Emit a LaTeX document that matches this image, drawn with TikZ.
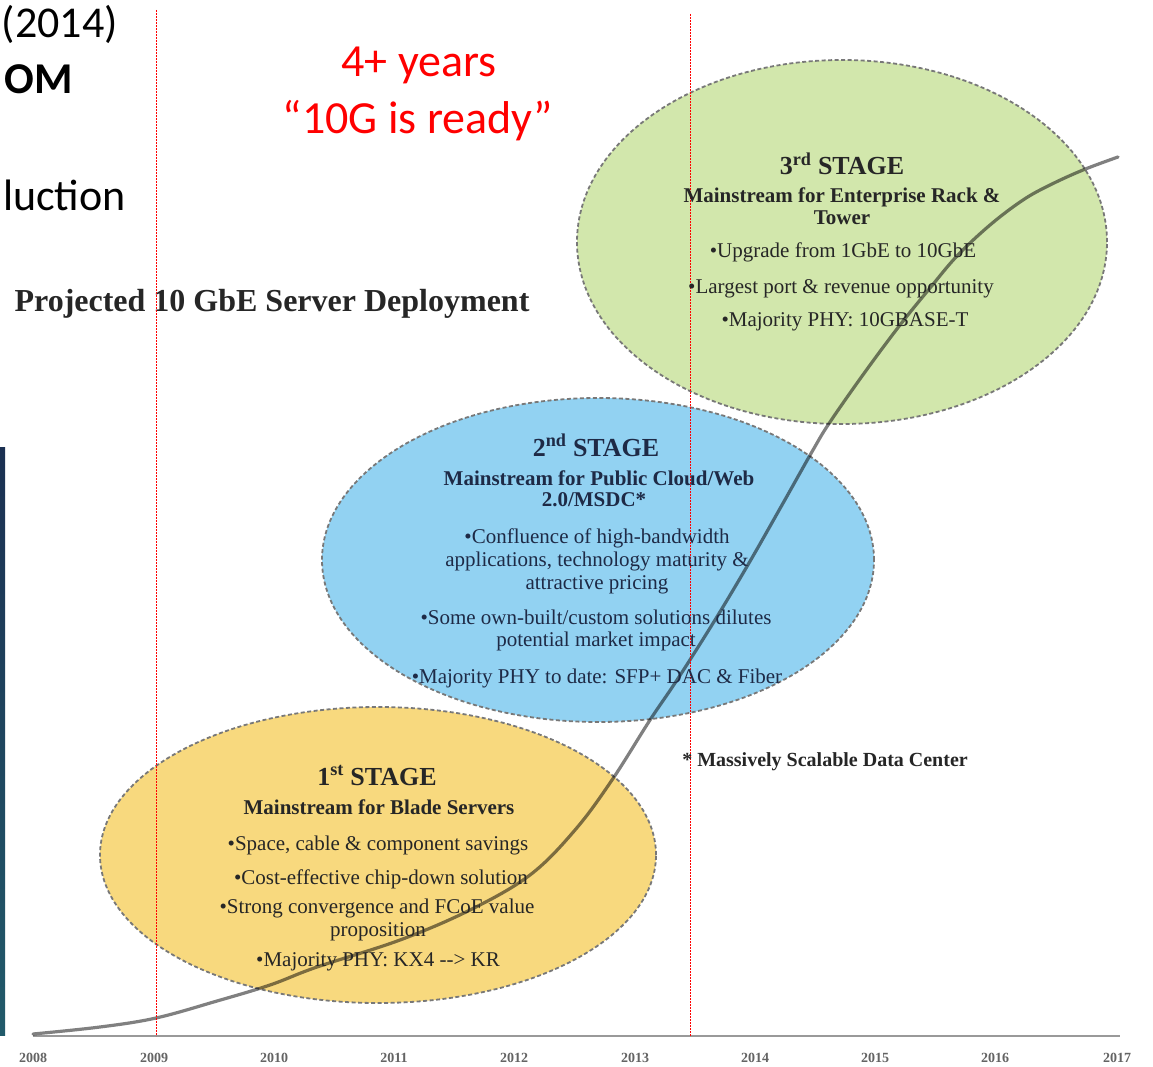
\documentclass[tikz,border=0pt]{standalone}
\usepackage{fontspec}
\setmainfont{Liberation Serif}
\newfontfamily\slidefont{Carlito}
\usetikzlibrary{shapes.geometric}
\definecolor{greenfill}{RGB}{210,231,172}
\definecolor{bluefill}{RGB}{146,210,242}
\definecolor{yellowfill}{RGB}{248,217,126}
\definecolor{ellborder}{RGB}{120,120,120}
\definecolor{curvegray}{RGB}{128,128,128}
\definecolor{bluetext}{RGB}{30,42,70}
\definecolor{darktext}{RGB}{38,38,38}
\definecolor{yeargray}{RGB}{100,100,100}
\definecolor{barTop}{RGB}{27,48,82}
\definecolor{barBot}{RGB}{33,90,106}
\begin{document}
\begin{tikzpicture}[x=1pt,y=-1pt,
  stageell/.style={ellipse, draw=ellborder, line width=1.8pt, dash pattern=on 4pt off 2.5pt, inner sep=0pt},
  bodytxt/.style={font=\fontsize{21}{24}\selectfont, anchor=base, inner sep=0pt},
  headtxt/.style={font=\fontsize{21}{24}\selectfont\bfseries, anchor=base, inner sep=0pt},
  stagetitle/.style={font=\fontsize{26}{30}\selectfont\bfseries, anchor=base, inner sep=0pt},
  slidetxt/.style={font=\slidefont\fontsize{44}{50}\selectfont, inner sep=0pt},
  redtxt/.style={font=\slidefont\fontsize{46}{52}\selectfont, text=red, anchor=base, inner sep=0pt},
  yeartxt/.style={font=\fontsize{14}{16}\selectfont\bfseries, text=yeargray, anchor=base, inner sep=0pt},
  redline/.style={draw=red, line width=0.7pt, dash pattern=on 2pt off 1pt}]
\useasboundingbox[fill=white] (0,0) rectangle (1153,1067);

% left dark bar
\shade[top color=barTop, bottom color=barBot] (0,447) rectangle (5,1035);

% slide text fragments
\node[slidetxt, anchor=base east] (t2014) at (118,38) {(2014)};
\node[slidetxt, anchor=base east, font=\slidefont\bfseries\fontsize{44}{50}\selectfont] (tom) at (73,94) {OM};
\node[slidetxt, anchor=base east] (tluction) at (126,211) {luction};

% red labels
\node[redtxt] (years) at (419,77) {4+ years};
\node[redtxt] (ready) at (418,134) {“10G is ready”};

% chart title
\node[font=\fontsize{32}{35}\selectfont\bfseries, anchor=base, inner sep=0pt, text=darktext] (title) at (272,311) {Projected 10 GbE Server Deployment};

% ellipses
\node[stageell, fill=greenfill, minimum width=530pt, minimum height=364pt] (e3) at (842,242) {};
\node[stageell, fill=bluefill, minimum width=552pt, minimum height=324pt] (e2) at (598,560) {};
\node[stageell, fill=yellowfill, minimum width=556pt, minimum height=296pt] (e1) at (378,855) {};

% axis
\coordinate (ax0) at (33,1036);
\coordinate (ax1) at (1120,1036);
\draw[draw=curvegray!80, line width=1.5pt] (ax0) -- (ax1);

% adoption curve
\begin{scope}[blend mode=multiply]
\draw[curvegray, line width=3.2pt, line cap=round] plot[smooth, tension=0.6] coordinates {
 (33,1034) (100,1027) (156,1018) (217,1001) (270,985) (317,967)
 (400,940) (470,910) (530,875) (575,830) (612,780) (650,720) (677,680)
 (715,620) (749,563) (782,505) (813,450) (830,422) (865,372) (900,325)
 (930,288) (957,256) (990,225) (1023,200) (1050,185) (1083,170) (1118,157)};
\end{scope}

% red dotted lines
\coordinate (r1t) at (156,10);
\coordinate (r1b) at (156,1036);
\coordinate (r2t) at (690,14);
\coordinate (r2b) at (690,1036);
\draw[redline] (r1t) -- (r1b);
\draw[redline] (r2t) -- (r2b);

% 3rd stage text
\begin{scope}[every node/.append style={text=darktext}]
\node[stagetitle] (s3a) at (842,175) {3\textsuperscript{rd} STAGE};
\node[headtxt] (s3b) at (842,203) {Mainstream for Enterprise Rack \&};
\node[headtxt] (s3c) at (842,225) {Tower};
\node[bodytxt] (s3d) at (843,258) {•Upgrade from 1GbE to 10GbE};
\node[bodytxt] (s3e) at (841,293) {•Largest port \& revenue opportunity};
\node[bodytxt] (s3f) at (845,326) {•Majority PHY: 10GBASE-T};
\end{scope}

% 2nd stage text
\begin{scope}[every node/.append style={text=bluetext}]
\node[stagetitle] (s2a) at (596,456) {2\textsuperscript{nd} STAGE};
\node[headtxt] (s2b) at (599,485) {Mainstream for Public Cloud/Web};
\node[headtxt] (s2c) at (594,506) {2.0/MSDC*};
\node[bodytxt] (s2d) at (597,543) {•Confluence of high-bandwidth};
\node[bodytxt] (s2e) at (597,566) {applications, technology maturity \&};
\node[bodytxt] (s2f) at (597,589) {attractive pricing};
\node[bodytxt] (s2g) at (596,624) {•Some own-built/custom solutions dilutes};
\node[bodytxt] (s2h) at (596,646) {potential market impact};
\node[bodytxt] (s2i) at (597,683) {•Majority PHY to date: SFP+ DAC \& Fiber};
\end{scope}

% 1st stage text
\begin{scope}[every node/.append style={text=darktext}]
\node[stagetitle] (s1a) at (377,785) {1\textsuperscript{st} STAGE};
\node[headtxt] (s1b) at (379,814) {Mainstream for Blade Servers};
\node[bodytxt] (s1c) at (378,850) {•Space, cable \& component savings};
\node[bodytxt] (s1d) at (381,884) {•Cost-effective chip-down solution};
\node[bodytxt] (s1e) at (377,913) {•Strong convergence and FCoE value};
\node[bodytxt] (s1f) at (378,936) {proposition};
\node[bodytxt] (s1g) at (378,966) {•Majority PHY: KX4 -{}-> KR};
\end{scope}

% footnote
\node[headtxt, text=darktext, font=\fontsize{20}{24}\selectfont\bfseries] (note) at (825,766) {* Massively Scalable Data Center};

% years
\node[yeartxt] (y08) at (33,1062) {2008};
\node[yeartxt] (y09) at (154,1062) {2009};
\node[yeartxt] (y10) at (274,1062) {2010};
\node[yeartxt] (y11) at (394,1062) {2011};
\node[yeartxt] (y12) at (514,1062) {2012};
\node[yeartxt] (y13) at (635,1062) {2013};
\node[yeartxt] (y14) at (755,1062) {2014};
\node[yeartxt] (y15) at (875,1062) {2015};
\node[yeartxt] (y16) at (995,1062) {2016};
\node[yeartxt] (y17) at (1117,1062) {2017};
\end{tikzpicture}
\end{document}
